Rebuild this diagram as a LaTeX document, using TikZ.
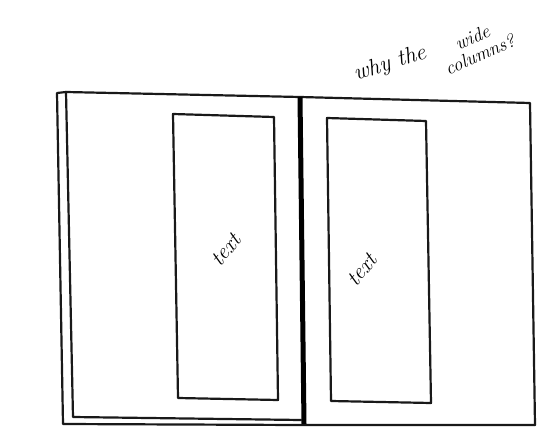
\documentclass[tikz,border=0pt]{standalone}
\begin{document}
\begin{tikzpicture}[x=1pt,y=-1pt,
  sketch/.style={draw=black!90,line width=2.2pt,line join=round,line cap=round},
  spine/.style={draw=black,line width=5pt},
  hand/.style={font=\itshape\fontsize{22}{22}\selectfont,inner sep=0pt}]
\useasboundingbox[fill=white] (0,0) rectangle (538,433);
% back sheet
\draw[sketch] (66,92) -- (57,93) -- (63,424) -- (300,425) -- (535,425);
% left page
\draw[sketch] (66,92) -- (300,97) -- (530,103) -- (535,425);
\draw[sketch] (66,92) -- (73,417) -- (301,420);
% spine
\draw[spine] (300,97) -- (304,424);
% text boxes
\draw[sketch] (173,114) -- (274,117) -- (278,400) -- (178,398) -- cycle;
\draw[sketch] (327,118) -- (426,121) -- (431,403) -- (331,401) -- cycle;
% labels
\node[hand,rotate=50] (t1) at (226,250) {text};
\node[hand,rotate=50] (t2) at (362,270) {text};
\node[hand,rotate=18,font=\itshape\fontsize{23}{23}\selectfont] (q1) at (390,64) {why the};
\node[hand,rotate=24,align=center,font=\itshape\fontsize{19}{19}\selectfont] (q2) at (476,46) {wide\\columns?};
\end{tikzpicture}
\end{document}
